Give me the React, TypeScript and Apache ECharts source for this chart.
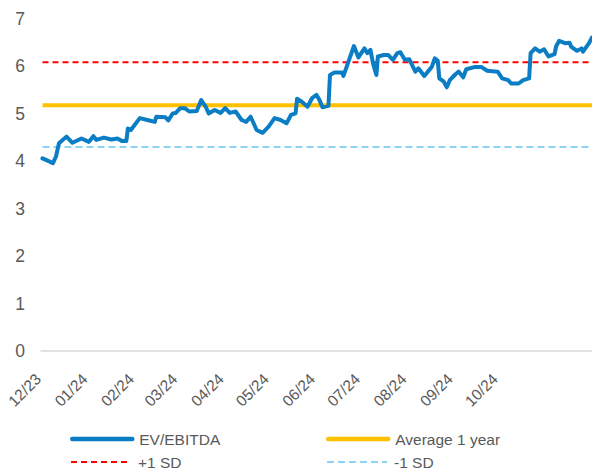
import React, { useEffect, useRef } from "react";
import * as echarts from "echarts";

const evDates = [
  "2023-12-01","2023-12-08","2023-12-10","2023-12-12","2023-12-17","2023-12-21","2023-12-27",
  "2024-01-01","2024-01-04","2024-01-06","2024-01-11","2024-01-16","2024-01-20","2024-01-23","2024-01-26","2024-01-27","2024-01-29",
  "2024-02-04","2024-02-09","2024-02-14","2024-02-15","2024-02-21","2024-02-23","2024-02-26","2024-02-28",
  "2024-03-02","2024-03-05","2024-03-08","2024-03-13","2024-03-16","2024-03-19","2024-03-21","2024-03-25","2024-03-29",
  "2024-04-01","2024-04-04","2024-04-08","2024-04-12","2024-04-15","2024-04-18","2024-04-22","2024-04-26","2024-04-30",
  "2024-05-04","2024-05-08","2024-05-12","2024-05-15","2024-05-18","2024-05-19","2024-05-22","2024-05-26","2024-05-29",
  "2024-06-01","2024-06-03","2024-06-05","2024-06-09","2024-06-10","2024-06-13","2024-06-18","2024-06-19","2024-06-22","2024-06-26","2024-06-29",
  "2024-07-03","2024-07-05","2024-07-07","2024-07-09","2024-07-11","2024-07-12","2024-07-16","2024-07-19","2024-07-22","2024-07-25","2024-07-27","2024-07-30",
  "2024-08-02","2024-08-06","2024-08-08","2024-08-12","2024-08-17","2024-08-19","2024-08-21","2024-08-22","2024-08-25","2024-08-27","2024-08-29",
  "2024-09-02","2024-09-04","2024-09-07","2024-09-09","2024-09-15","2024-09-19","2024-09-23","2024-09-30",
  "2024-10-03","2024-10-07","2024-10-09","2024-10-14","2024-10-17","2024-10-21","2024-10-22","2024-10-25","2024-10-28","2024-10-31",
  "2024-11-03","2024-11-07","2024-11-08","2024-11-10","2024-11-14","2024-11-17","2024-11-18","2024-11-22","2024-11-25","2024-11-26","2024-11-30",
  "2024-12-02",
];

const evValues = [
  4.06,3.96,4.10,4.38,4.52,4.39,4.48,
  4.41,4.53,4.45,4.50,4.46,4.48,4.43,4.43,4.69,4.66,
  4.91,4.87,4.83,4.94,4.93,4.86,5.01,5.02,
  5.12,5.12,5.05,5.06,5.29,5.15,5.01,5.08,5.02,
  5.12,5.02,5.05,4.87,4.83,4.94,4.66,4.60,4.73,
  4.91,4.87,4.80,4.98,5.01,5.32,5.26,5.15,5.33,
  5.40,5.29,5.14,5.17,5.82,5.87,5.87,5.80,6.07,6.43,6.19,
  6.38,6.28,6.35,6.03,5.82,6.21,6.24,6.24,6.14,6.28,6.30,6.14,
  6.15,5.89,5.96,5.80,5.99,6.17,6.12,5.75,5.68,5.56,5.71,
  5.84,5.89,5.77,5.94,5.99,5.99,5.91,5.89,
  5.75,5.71,5.64,5.64,5.71,5.75,6.28,6.38,6.31,6.36,
  6.21,6.26,6.42,6.54,6.49,6.50,6.42,6.33,6.38,6.31,6.49,
  6.61,
];

const averageValue = 5.18;
const plusSdValue = 6.09;
const minusSdValue = 4.30;

const xTickLabels = ["12/23","01/24","02/24","03/24","04/24","05/24","06/24","07/24","08/24","09/24","10/24"];
const yTicks = [0, 1, 2, 3, 4, 5, 6, 7];

const seriesNames = ["EV/EBITDA", "Average 1 year", "+1 SD", "-1 SD"];

const FONT = "'Liberation Sans', Arial, sans-serif";
const TEXT = "#595959";

export default function App() {
  const ref = useRef<HTMLDivElement>(null);

  useEffect(() => {
    if (!ref.current) return;
    const chart = echarts.init(ref.current, undefined, { renderer: "svg" });
    const first = evDates[0];
    const last = evDates[evDates.length - 1];
    const flat = (v: number) => [[first, v], [last, v]];
    const legendBase = {
      itemWidth: 60,
      itemHeight: 14,
      itemGap: 10,
      padding: 0,
      itemStyle: { opacity: 0 },
      textStyle: { color: TEXT, fontSize: 15.5, fontFamily: FONT, padding: [0, 0, 0, 2] },
      selectedMode: false as const,
    };
    chart.setOption({
      animation: false,
      textStyle: { fontFamily: FONT },
      grid: { left: 41, right: 0, top: 19, bottom: 122, outerBoundsMode: "none", containLabel: false },
      xAxis: {
        type: "time",
        min: "2023-11-30",
        max: last,
        splitNumber: 12,
        minInterval: 28 * 86400000,
        maxInterval: 31 * 86400000,
        axisLine: { show: true, lineStyle: { color: "#D9D9D9", width: 1.5 } },
        axisTick: { show: false },
        splitLine: { show: false },
        axisLabel: {
          rotate: 45,
          margin: 21,
          padding: [0, 6, 0, 0],
          color: TEXT,
          fontSize: 15.5,
          fontFamily: FONT,
          hideOverlap: false,
          showMinLabel: false,
          showMaxLabel: false,
          formatter: (val: number) => {
            const d = new Date(val);
            const idx = (d.getFullYear() - 2023) * 12 + d.getMonth() - 11;
            if (d.getDate() !== 1) return "";
            return xTickLabels[idx] ?? "";
          },
        },
      },
      yAxis: {
        type: "value",
        min: yTicks[0],
        max: yTicks[yTicks.length - 1],
        interval: 1,
        axisLine: { show: false },
        axisTick: { show: false },
        splitLine: { show: false },
        axisLabel: { color: TEXT, fontSize: 17.5, fontFamily: FONT, margin: 16 },
      },
      legend: [
        { ...legendBase, left: 70, top: 431, lineStyle: { width: 4.5, cap: "round" }, data: [seriesNames[0]] },
        { ...legendBase, left: 326, top: 431, lineStyle: { width: 4.5, cap: "round" }, data: [seriesNames[1]] },
        { ...legendBase, left: 70, top: 454, lineStyle: { width: 2 }, data: [seriesNames[2]] },
        { ...legendBase, left: 326, top: 454, lineStyle: { width: 2 }, data: [seriesNames[3]] },
      ],
      series: [
        {
          name: seriesNames[2],
          type: "line",
          data: flat(plusSdValue),
          symbol: "none",
          lineStyle: { color: "#FF0000", width: 2, type: [6, 4] },
          itemStyle: { color: "#FF0000" },
          z: 2,
        },
        {
          name: seriesNames[3],
          type: "line",
          data: flat(minusSdValue),
          symbol: "none",
          lineStyle: { color: "#8DD3F6", width: 2, type: [7, 4] },
          itemStyle: { color: "#8DD3F6" },
          z: 2,
        },
        {
          name: seriesNames[1],
          type: "line",
          data: flat(averageValue),
          symbol: "none",
          lineStyle: { color: "#FFC000", width: 4 },
          itemStyle: { color: "#FFC000" },
          z: 3,
        },
        {
          name: seriesNames[0],
          type: "line",
          data: evDates.map((d, i) => [d, evValues[i]]),
          symbol: "none",
          lineStyle: { color: "#0B7DC4", width: 4, cap: "round", join: "round" },
          itemStyle: { color: "#0B7DC4" },
          z: 4,
        },
      ],
    });
    return () => chart.dispose();
  }, []);

  return (
    <div
      ref={ref}
      style={{ position: "fixed", left: 0, top: 0, width: 592, height: 473, background: "#fff" }}
    />
  );
}
